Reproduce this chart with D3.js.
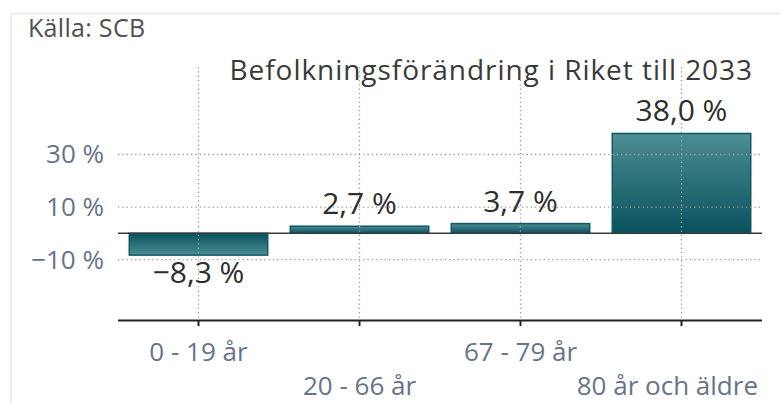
<!DOCTYPE html>
<html>
<head>
<meta charset="utf-8">
<script src="https://cdn.jsdelivr.net/npm/d3@7"></script>
<style>
  body { margin: 0; background: #fff; }
  text { font-family: "Open Sans", "Noto Sans", sans-serif; }
</style>
</head>
<body>
<div id="chart"></div>
<script>
const categories = ["0 - 19 år", "20 - 66 år", "67 - 79 år", "80 år och äldre"];
const values = [-8.3, 2.7, 3.7, 38.0];
const yTicks = [-10, 10, 30];
const title = "Befolkningsförändring i Riket till 2033";
const source = "Källa: SCB";

const width = 780, height = 403;
const plot = { left: 118, right: 762, top: 67, bottom: 320 };

const svg = d3.select("#chart").append("svg")
    .attr("width", width)
    .attr("height", height);

const defs = svg.append("defs");
const gUp = defs.append("linearGradient").attr("id", "gUp")
    .attr("x1", 0).attr("y1", 0).attr("x2", 0).attr("y2", 1);
gUp.append("stop").attr("offset", "0%").attr("stop-color", "#4e8d93");
gUp.append("stop").attr("offset", "100%").attr("stop-color", "#07525e");
const gDown = defs.append("linearGradient").attr("id", "gDown")
    .attr("x1", 0).attr("y1", 0).attr("x2", 0).attr("y2", 1);
gDown.append("stop").attr("offset", "0%").attr("stop-color", "#07525e");
gDown.append("stop").attr("offset", "100%").attr("stop-color", "#4e8d93");

// frame
svg.append("line").attr("x1", 10).attr("x2", width).attr("y1", 13.5).attr("y2", 13.5)
    .attr("stroke", "#ececec").attr("stroke-width", 2);
svg.append("line").attr("x1", 11).attr("x2", 11).attr("y1", 13).attr("y2", height)
    .attr("stroke", "#f0f0f0").attr("stroke-width", 2);

const xscale = d3.scaleBand()
    .domain(categories)
    .range([plot.left, plot.right])
    .paddingInner(0.14)
    .paddingOuter(0.07);

const yscale = d3.scaleLinear()
    .domain([-33, 63.3])
    .range([plot.bottom, plot.top]);

const xc = d => xscale(d) + xscale.bandwidth() / 2;

svg.append("text")
    .attr("x", 28).attr("y", 37)
    .attr("font-size", 25)
    .attr("letter-spacing", 0.3)
    .attr("fill", "#505050")
    .text(source);

svg.append("text")
    .attr("x", 753).attr("y", 80)
    .attr("text-anchor", "end")
    .attr("font-size", 28)
    .attr("letter-spacing", 0.95)
    .attr("fill", "#3a3a3a")
    .text(title);

// bars
svg.selectAll("rect.bar")
    .data(values)
    .enter()
    .append("rect")
    .attr("class", "bar")
    .attr("x", (d, i) => xscale(categories[i]))
    .attr("width", xscale.bandwidth())
    .attr("y", d => yscale(Math.max(0, d)))
    .attr("height", d => Math.abs(yscale(d) - yscale(0)))
    .attr("fill", d => d < 0 ? "url(#gDown)" : "url(#gUp)")
    .attr("stroke", "#0d5a64")
    .attr("stroke-width", 1.5);

// grid
svg.append("g")
    .selectAll("line")
    .data(yTicks)
    .enter()
    .append("line")
    .attr("x1", plot.left).attr("x2", plot.right - 2)
    .attr("y1", d => yscale(d)).attr("y2", d => yscale(d))
    .attr("stroke", "#9a9a9a")
    .attr("stroke-width", 1.3)
    .attr("stroke-dasharray", "1.3,3");

svg.append("g")
    .selectAll("line")
    .data(categories)
    .enter()
    .append("line")
    .attr("x1", d => xc(d)).attr("x2", d => xc(d))
    .attr("y1", plot.top).attr("y2", plot.bottom)
    .attr("stroke", "#9a9a9a")
    .attr("stroke-width", 1.3)
    .attr("stroke-dasharray", "1.3,3");

// zero line
svg.append("line")
    .attr("x1", plot.left).attr("x2", plot.right)
    .attr("y1", yscale(0)).attr("y2", yscale(0))
    .attr("stroke", "#3a3a3a").attr("stroke-width", 1.5);

// y axis labels
svg.append("g")
    .selectAll("text")
    .data(yTicks)
    .enter()
    .append("text")
    .attr("x", 104)
    .attr("y", d => yscale(d) + 9)
    .attr("text-anchor", "end")
    .attr("font-size", 26)
    .attr("fill", "#66748a")
    .text(d => (d < 0 ? "\u2212" + Math.abs(d) : d) + " %");

// x axis
const xaxis = d3.axisBottom(xscale).tickSize(6).tickFormat("");
const gx = svg.append("g")
    .attr("transform", `translate(0, ${plot.bottom})`)
    .call(xaxis);
gx.select(".domain").attr("d", `M${plot.left},0.5H${plot.right}`)
    .attr("stroke", "#222").attr("stroke-width", 2);
gx.selectAll(".tick line").attr("stroke", "#222").attr("stroke-width", 2);

// category labels, staggered, kept inside the chart on the right
svg.append("g")
    .selectAll("text")
    .data(categories)
    .enter()
    .append("text")
    .attr("y", (d, i) => i % 2 === 0 ? 361 : 395)
    .attr("text-anchor", "middle")
    .attr("font-size", 26)
    .attr("fill", "#66748a")
    .text(d => d)
    .attr("x", function (d) {
        const w = this.getComputedTextLength();
        return Math.min(xc(d), 758 - w / 2);
    });

// value labels
svg.append("g")
    .selectAll("text")
    .data(values)
    .enter()
    .append("text")
    .attr("x", (d, i) => xc(categories[i]))
    .attr("y", d => d < 0 ? yscale(d) + 28 : yscale(d) - 12)
    .attr("text-anchor", "middle")
    .attr("font-size", 30)
    .attr("fill", "#2e2e2e")
    .text(d => (d < 0 ? "\u2212" : "") + d3.format(".1f")(Math.abs(d)).replace(".", ",") + " %");
</script>
</body>
</html>
